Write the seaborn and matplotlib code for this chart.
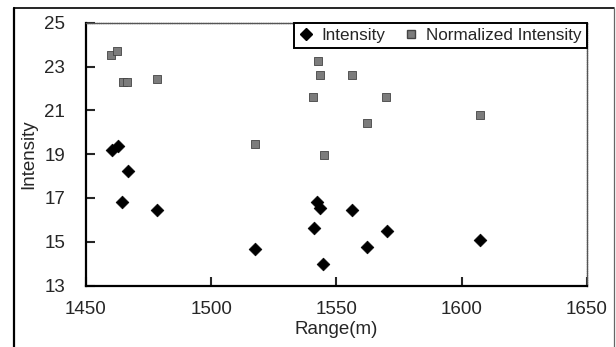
import numpy as np
import pandas as pd
import matplotlib
matplotlib.use("Agg")
import matplotlib.pyplot as plt
import seaborn as sns
from matplotlib.lines import Line2D

sns.set_style("ticks")
plt.rcParams['font.family'] = ['Liberation Sans', 'DejaVu Sans']

_fontsize = 13.5

# values
range_int = [1460.3, 1462.8, 1464.4, 1466.9, 1478.5, 1517.6, 1541.2,
             1542.1, 1543.5, 1544.5, 1556.1, 1562.2, 1570.1, 1607.5]
intensity = [19.19, 19.37, 16.80, 18.23, 16.45, 14.65, 15.64,
             16.83, 16.53, 14.00, 16.46, 14.74, 15.47, 15.09]

range_norm = [1460.0, 1462.5, 1464.9, 1466.2, 1478.2, 1517.5, 1540.8,
              1542.5, 1543.5, 1545.0, 1556.1, 1562.1, 1569.8, 1607.4]
norm_intensity = [23.53, 23.72, 22.31, 22.31, 22.42, 19.46, 21.63,
                  23.25, 22.61, 18.96, 22.61, 20.41, 21.63, 20.79]

xticks = [1450, 1500, 1550, 1600, 1650]
yticks = [13, 15, 17, 19, 21, 23, 25]

dfInt = pd.DataFrame({"range": range_int, "val": intensity})
dfNorm = pd.DataFrame({"range": range_norm, "val": norm_intensity})

fig = plt.figure(figsize=(6.16, 3.47), dpi=100)
ax = fig.add_axes([86/616, 1-285.5/347, (586.7-86)/616, (285.5-22.7)/347])

sns.scatterplot(data=dfInt, x="range", y="val", ax=ax, marker="D", color="black",
                s=42, edgecolor="black", linewidth=0.5, label="Intensity", zorder=3)
sns.scatterplot(data=dfNorm, x="range", y="val", ax=ax, marker="s", color="#7c7c7c",
                s=38, edgecolor="#444444", linewidth=0.6, label="Normalized Intensity", zorder=3)

ax.set_xlim(1450, 1650)
ax.set_ylim(13, 25)
ax.set_xticks(xticks)
ax.set_yticks(yticks)
ax.tick_params(direction="in", length=6.5, width=1.5, labelsize=_fontsize)
ax.tick_params(axis="y", pad=15)
ax.tick_params(axis="x", pad=11)
ax.set_xlabel("Range(m)", fontsize=_fontsize, labelpad=2)
ax.set_ylabel("Intensity", fontsize=_fontsize, labelpad=5)

for s in ["left", "bottom"]:
    ax.spines[s].set_linewidth(1.6)
    ax.spines[s].set_color("black")
for s in ["top", "right"]:
    ax.spines[s].set_linewidth(1.0)
    ax.spines[s].set_color("#555555")
    ax.spines[s].set_linestyle((0, (1, 0.6)))

handles = [
    Line2D([], [], marker="D", color="black", linestyle="none", markersize=6),
    Line2D([], [], marker="s", color="#7c7c7c", markeredgecolor="#444444",
           linestyle="none", markersize=5.5),
]
leg = ax.legend(handles, ["Intensity", "Normalized Intensity"], loc="upper right",
                bbox_to_anchor=(1, 1), borderaxespad=0, ncol=2, fontsize=12.3,
                frameon=True, fancybox=False, framealpha=1, handlelength=0.8,
                handletextpad=0.5, columnspacing=1.1, borderpad=0.3)
leg.get_frame().set_edgecolor("black")
leg.get_frame().set_linewidth(1.4)

# outer frame around the figure
fig.add_artist(Line2D([14/616, 14/616], [0, 1-8/347], color="black", lw=1.6,
                      transform=fig.transFigure))
fig.add_artist(Line2D([14/616, 614/616], [1-8/347, 1-8/347], color="black", lw=1.2,
                      transform=fig.transFigure))
fig.add_artist(Line2D([614/616, 614/616], [0, 1-8/347], color="#666666", lw=0.9,
                      transform=fig.transFigure))

plt.savefig("out.png", dpi=100)
